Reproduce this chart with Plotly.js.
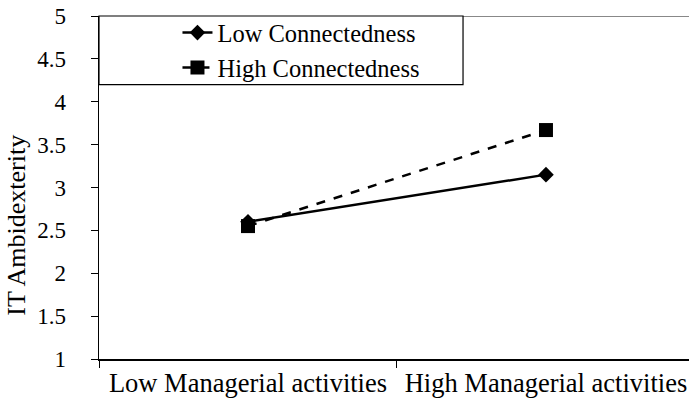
<!DOCTYPE html>
<html><head><meta charset="utf-8">
<script src="https://cdn.plot.ly/plotly-3.0.1.min.js"></script>
<style>body{margin:0;padding:0;background:#fff}#chart{width:689px;height:406px}</style>
</head><body><div id="chart"></div>
<script>
const categories = ["Low Managerial activities", "High Managerial activities"];
const seriesNames = ["Low Connectedness", "High Connectedness"];
const lowConnectedness = [2.6, 3.15];
const highConnectedness = [2.55, 3.67];
const yTicks = [1, 1.5, 2, 2.5, 3, 3.5, 4, 4.5, 5];
const yTickLabels = ["1", "1.5", "2", "2.5", "3", "3.5", "4", "4.5", "5"];
const yTitle = "IT Ambidexterity";

const fam = "Liberation Serif, Times New Roman, serif";

const traces = [
  {x: categories, y: lowConnectedness, name: seriesNames[0], type: "scatter", mode: "lines+markers",
   legendgroup: "a",
   line: {color: "#000", width: 2.5}, marker: {symbol: "diamond", size: 12, color: "#000"}},
  {x: categories, y: highConnectedness, name: seriesNames[1], type: "scatter", mode: "lines+markers",
   legendgroup: "b",
   line: {color: "#000", width: 2.5, dash: "dash"}, marker: {symbol: "square", size: 14, color: "#000"}}
];

const layout = {
  width: 689, height: 406,
  margin: {l: 99, r: 0, t: 16, b: 47},
  paper_bgcolor: "#fff", plot_bgcolor: "#fff",
  font: {family: fam, size: 24, color: "#000"},
  showlegend: true,
  legend: {x: 0.133, y: 1.017, xanchor: "left", yanchor: "top", bgcolor: "rgba(0,0,0,0)",
           font: {family: fam, size: 24.5, color: "#000"}, tracegroupgap: 4, traceorder: "normal"},
  xaxis: {type: "category", range: [-0.5, 1.48], showgrid: false, zeroline: false,
          showline: true, linecolor: "#000", linewidth: 1.5,
          ticks: "outside", tickson: "boundaries", ticklen: 7, tickcolor: "#000", tickwidth: 1,
          tickfont: {family: fam, size: 26.5, color: "#000"}, automargin: false},
  yaxis: {range: [1, 5], tickvals: yTicks, ticktext: yTickLabels, showgrid: false, zeroline: false,
          showline: true, linecolor: "#000", linewidth: 1.5,
          ticks: "outside", ticklen: 7, tickcolor: "#000", tickwidth: 1, ticklabelstandoff: 20,
          tickfont: {family: fam, size: 23, color: "#000"}, automargin: false},
  annotations: [
    {text: yTitle, xref: "paper", yref: "y", x: -0.14, y: 2.56, textangle: -90,
     showarrow: false, xanchor: "center", yanchor: "middle",
     font: {family: fam, size: 26, color: "#000"}}
  ],
  shapes: [
    {type: "line", xref: "paper", yref: "y", x0: 0, x1: 1, y0: 5, y1: 5,
     line: {color: "#888", width: 2}, layer: "below"},
    {type: "rect", xref: "paper", yref: "paper", x0: 0, x1: 0.617, y0: 0.8, y1: 1,
     fillcolor: "#fff", line: {color: "#000", width: 1.2}, layer: "below"}
  ]
};

Plotly.newPlot("chart", traces, layout, {displayModeBar: false, staticPlot: true});
</script></body></html>
